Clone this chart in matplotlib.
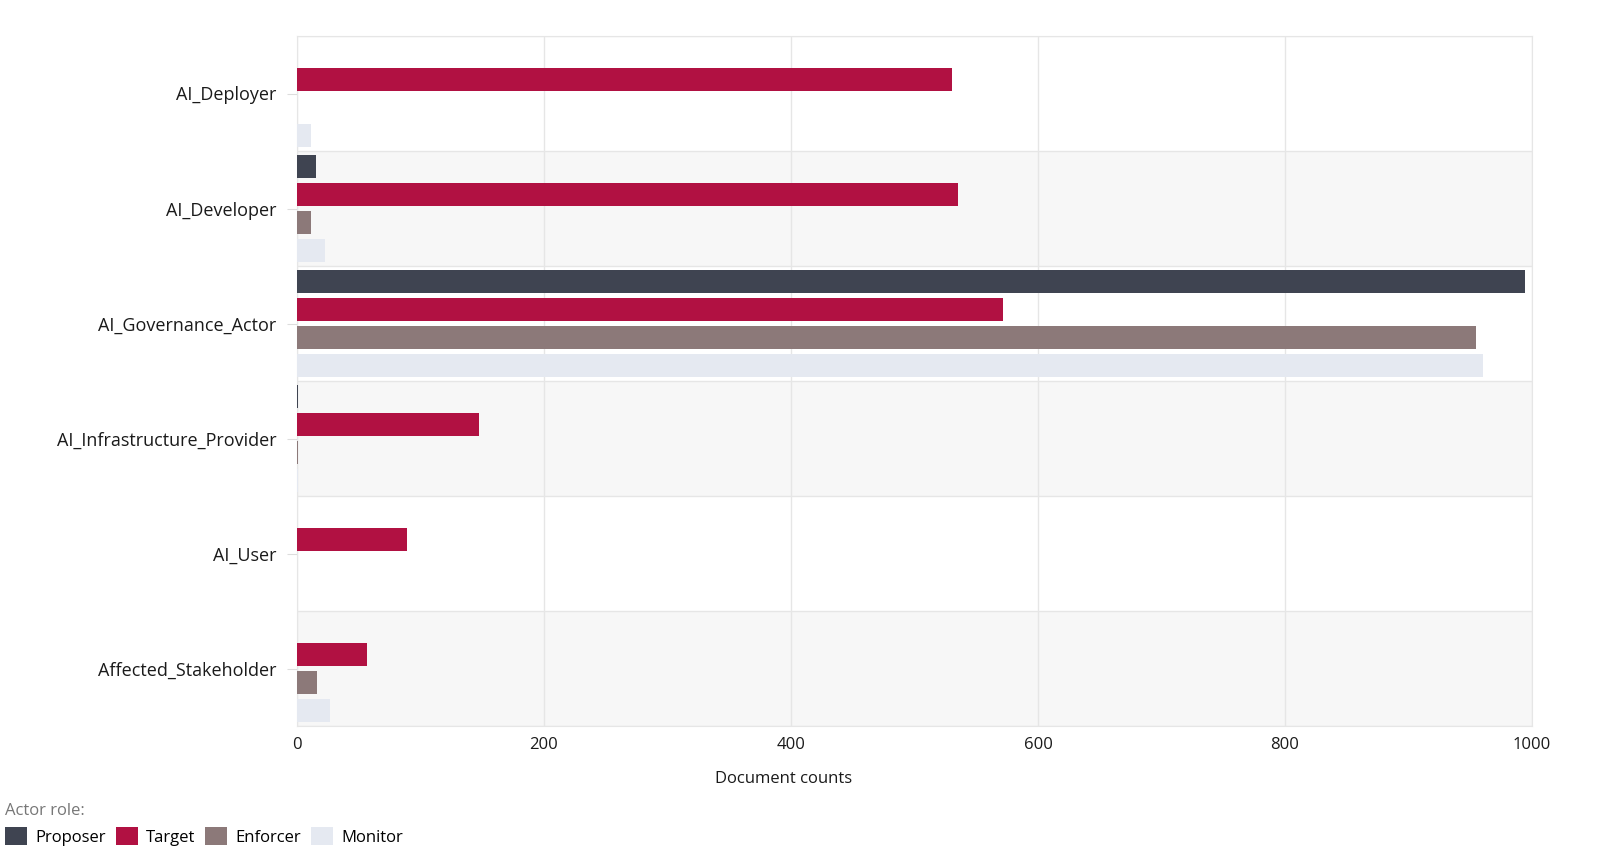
import matplotlib
matplotlib.use("Agg")
import matplotlib.pyplot as plt
from matplotlib.patches import Patch
import numpy as np

plt.rcParams['font.family'] = ['Open Sans', 'DejaVu Sans']

categories = ["AI_Deployer", "AI_Developer", "AI_Governance_Actor",
              "AI_Infrastructure_Provider", "AI_User", "Affected_Stakeholder"]
roles = ["Proposer", "Target", "Enforcer", "Monitor"]
proposer = [0, 15, 994, 1, 0, 0]
target = [530, 535, 572, 147, 89, 57]
enforcer = [0, 11, 955, 1, 0, 16]
monitor = [11, 23, 960, 1, 0, 27]
series = [proposer, target, enforcer, monitor]
colors = ["#3f4451", "#b11142", "#8c7979", "#e5e9f1"]

fig = plt.figure(figsize=(16, 8.64), dpi=100)
ax = fig.add_axes([297/1600, 1-726/864, (1532-297)/1600, (726-36)/864])

n = len(categories)
y = np.arange(n)
pitch = 0.243
h = 0.2
offsets = [-1.5*pitch, -0.5*pitch, 0.5*pitch, 1.5*pitch]

for i in range(n):
    if i % 2 == 1:
        ax.axhspan(i-0.5, i+0.5, color="#f7f7f7", zorder=0, lw=0)
for i in range(n+1):
    ax.axhline(i-0.5, color="#e6e6e6", lw=1, zorder=1)

for s, vals, col, off in zip(roles, series, colors, offsets):
    ax.barh(y+off, vals, height=h, color=col, label=s, zorder=3)

ax.set_xlim(0, 1000)
ax.set_ylim(n-0.5, -0.5)
ax.set_xticks([0, 200, 400, 600, 800, 1000])
ax.grid(axis='x', color="#e6e6e6", lw=1, zorder=1)
ax.set_axisbelow(True)
ax.set_yticks(y)
ax.set_yticklabels(categories, fontsize=13, color="#1a1a1a")
ax.tick_params(axis='y', length=7, color="#dddddd", pad=8)
ax.tick_params(axis='x', length=0, labelsize=12, pad=8, colors="#1a1a1a")
for sp in ax.spines.values():
    sp.set_color("#e6e6e6")
ax.set_xlabel("Document counts", fontsize=12, color="#1a1a1a")
ax.xaxis.set_label_coords((784-297)/1235, -(779-726)/690, transform=ax.transAxes)
ax.xaxis.label.set_verticalalignment('center')

handles = [Patch(facecolor=c, edgecolor='none', label=r) for r, c in zip(roles, colors)]
leg = fig.legend(handles=handles, loc='lower left', bbox_to_anchor=(-0.006, 0.004),
                 ncol=4, frameon=False, fontsize=12, title="Actor role:",
                 title_fontsize=12, alignment='left', handlelength=1.3,
                 handleheight=1.3, handletextpad=0.5, columnspacing=0.6)
leg.get_title().set_color("#777777")

fig.savefig("out.png", dpi=100, facecolor="white")
